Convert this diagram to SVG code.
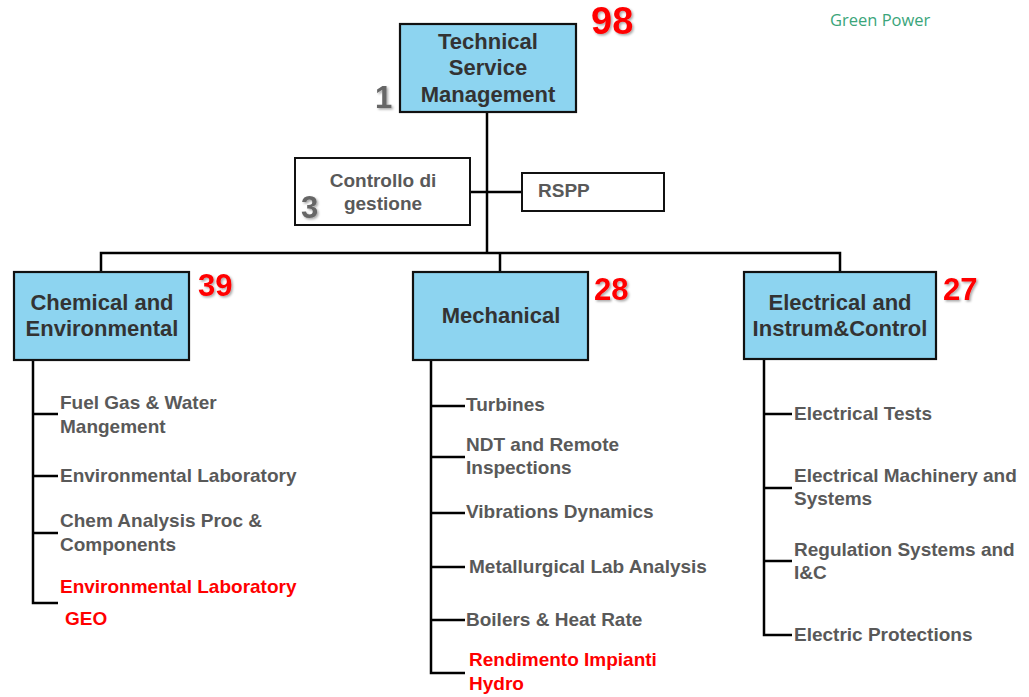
<svg xmlns="http://www.w3.org/2000/svg" width="1029" height="697" viewBox="0 0 1029 697">
<defs>
<filter id="sh" x="-20%" y="-20%" width="150%" height="150%">
<feDropShadow dx="1.5" dy="1.5" stdDeviation="1" flood-color="#000" flood-opacity="0.35"/>
</filter>
<style>
.box{fill:#8DD4F0;stroke:#111;stroke-width:2.2}
.wbox{fill:#fff;stroke:#111;stroke-width:2}
.ln{fill:none;stroke:#000;stroke-width:2.5}
.t{font-family:"Liberation Sans",Arial,sans-serif;font-weight:bold;font-size:22px;fill:#333;text-anchor:middle}
.s{font-family:"Liberation Sans",Arial,sans-serif;font-weight:bold;font-size:19px;fill:#595959}
.r{fill:#FF0000}
.n{font-family:"Liberation Sans",Arial,sans-serif;font-weight:bold;font-size:31px;fill:#FF0000;filter:url(#sh)}
.big{font-size:38px}
.g{font-family:"Liberation Sans",Arial,sans-serif;font-weight:bold;font-size:31px;fill:#666;filter:url(#sh)}
</style>
</defs>
<rect width="1029" height="697" fill="#fff"/>
<text x="830" y="26" font-family="'Open Sans','Liberation Sans',sans-serif" font-size="16.5" fill="#3AA57A">Green Power</text>

<g id="connectors">
<path class="ln" d="M487 112 V253"/>
<path class="ln" d="M470 192 H522"/>
<path class="ln" d="M101 272 V253 H840 V272"/>
<path class="ln" d="M500 253 V272"/>
<path class="ln" d="M33 360 V603 H58 M33 414 H58 M33 476 H58 M33 533 H58"/>
<path class="ln" d="M431 360 V673 H465 M431 406 H465 M431 457 H465 M431 513 H465 M431 567 H465 M431 620 H465"/>
<path class="ln" d="M764 359 V635 H792 M764 414 H792 M764 488 H792 M764 561 H792"/>
</g>

<g id="tsm">
<rect class="box" x="400" y="24" width="176" height="88"/>
<text class="t" x="488" y="49">Technical</text>
<text class="t" x="488" y="75">Service</text>
<text class="t" x="488" y="102">Management</text>
<text class="n big" x="591" y="34">98</text>
<text class="g" x="375" y="108">1</text>
</g>

<g id="controllo">
<rect class="wbox" x="295" y="158" width="175" height="67"/>
<text class="s" x="383" y="187" text-anchor="middle">Controllo di</text>
<text class="s" x="383" y="210" text-anchor="middle">gestione</text>
<text class="g" x="301" y="218">3</text>
</g>

<g id="rspp">
<rect class="wbox" x="522" y="173" width="142" height="38"/>
<text class="s" x="538" y="197">RSPP</text>
</g>

<g id="chemical">
<rect class="box" x="14" y="272" width="175" height="88"/>
<text class="t" x="102" y="310">Chemical and</text>
<text class="t" x="102" y="336">Environmental</text>
<text class="n" x="198" y="296">39</text>
<text class="s" x="60" y="409">Fuel Gas &amp; Water</text>
<text class="s" x="60" y="433">Mangement</text>
<text class="s" x="60" y="482">Environmental Laboratory</text>
<text class="s" x="60" y="527">Chem Analysis Proc &amp;</text>
<text class="s" x="60" y="551">Components</text>
<text class="s r" x="60" y="593">Environmental Laboratory</text>
<text class="s r" x="65" y="625">GEO</text>
</g>

<g id="mechanical">
<rect class="box" x="413" y="272" width="175" height="88"/>
<text class="t" x="501" y="323">Mechanical</text>
<text class="n" x="594" y="300">28</text>
<text class="s" x="466" y="411">Turbines</text>
<text class="s" x="466" y="451">NDT and Remote</text>
<text class="s" x="466" y="474">Inspections</text>
<text class="s" x="466" y="518">Vibrations Dynamics</text>
<text class="s" x="469" y="573">Metallurgical Lab Analysis</text>
<text class="s" x="466" y="626">Boilers &amp; Heat Rate</text>
<text class="s r" x="469" y="666">Rendimento Impianti</text>
<text class="s r" x="469" y="690">Hydro</text>
</g>

<g id="electrical">
<rect class="box" x="744" y="272" width="192" height="87"/>
<text class="t" x="840" y="310">Electrical and</text>
<text class="t" x="840" y="336">Instrum&amp;Control</text>
<text class="n" x="943" y="300">27</text>
<text class="s" x="794" y="420">Electrical Tests</text>
<text class="s" x="794" y="482">Electrical Machinery and</text>
<text class="s" x="794" y="505">Systems</text>
<text class="s" x="794" y="556">Regulation Systems and</text>
<text class="s" x="794" y="579">I&amp;C</text>
<text class="s" x="794" y="641">Electric Protections</text>
</g>
</svg>
